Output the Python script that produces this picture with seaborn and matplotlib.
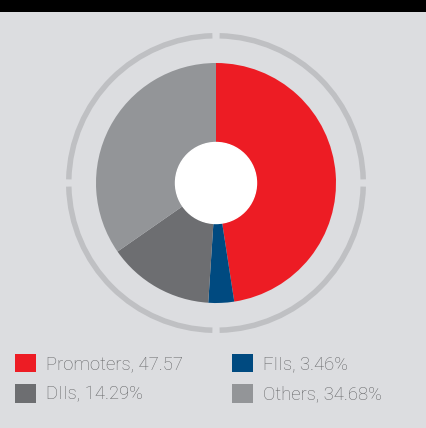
import matplotlib
matplotlib.use("Agg")
import matplotlib.pyplot as plt
import seaborn as sns
from matplotlib.patches import Wedge, Rectangle

categories = ["Promoters", "FIIs", "DIIs", "Others"]
values = [47.57, 3.46, 14.29, 34.68]
labels = ["Promoters, 47.57", "FIIs, 3.46%", "DIIs, 14.29%", "Others, 34.68%"]
colors = ["#ed1c24", "#004a80", "#6d6e71", "#939598"]

sns.set_theme(style="white")
plt.rcParams["font.family"] = ["Roboto", "DejaVu Sans"]

BG = "#dcdde0"
W, H = 427, 428
fig = plt.figure(figsize=(W / 100, H / 100), dpi=100, facecolor=BG)
ax = fig.add_axes([0, 0, 1, 1])
ax.set_facecolor(BG)

cx, cy = 216, H - 183
wedges, _ = ax.pie(values, colors=colors, startangle=90, counterclock=False,
                   center=(cx, cy), radius=120,
                   wedgeprops=dict(linewidth=0), frame=True)
ax.set_xlim(0, W)
ax.set_ylim(0, H)
ax.set_aspect("equal")
ax.axis("off")
ax.add_patch(plt.Circle((cx, cy), 40.5, color="white", zorder=3))

# outer segmented ring
gap = 1.4
for a in [0, 90, 180, 270]:
    ax.add_patch(Wedge((cx, cy), 150, a + gap, a + 90 - gap, width=5.5,
                       facecolor="#bfc0c3", edgecolor="none", zorder=1))

# black header bar
fig.patches.append(Rectangle((0, 1 - 12 / H), 1, 12 / H, transform=fig.transFigure,
                             facecolor="black", edgecolor="none"))

fs = 13.3
fpx = fs * 100 / 72
order = [0, 2, 1, 3]
leg = ax.legend([wedges[i] for i in order], [labels[i] for i in order],
                loc="upper left", bbox_to_anchor=(15 / W, 1 - 354 / H),
                ncol=2, frameon=False, fontsize=fs,
                handlelength=21 / fpx, handleheight=21 / fpx, handletextpad=10 / fpx,
                columnspacing=49 / fpx, labelspacing=11 / fpx, borderpad=0, borderaxespad=0)
for t in leg.get_texts():
    t.set_color("#636466")
    t.set_fontweight("light")

fig.savefig("out.png", dpi=100, facecolor=BG)
